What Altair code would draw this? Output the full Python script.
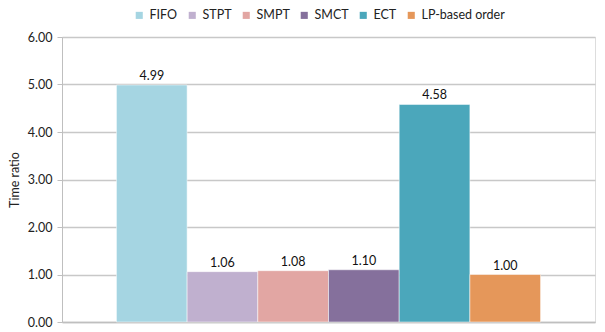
import altair as alt
import pandas as pd

methods = ["FIFO", "STPT", "SMPT", "SMCT", "ECT", "LP-based order"]
values = [4.99, 1.06, 1.08, 1.10, 4.58, 1.00]
colors = ["#A5D5E2", "#C0B0CF", "#E2A6A3", "#85709C", "#4BA7BB", "#E5975A"]
y_ticks = [0, 1, 2, 3, 4, 5, 6]

df = pd.DataFrame({"method": methods, "value": values})

FONT = "Lato"

x = alt.X("method:N", sort=methods,
          scale=alt.Scale(paddingInner=0, paddingOuter=0.77),
          axis=alt.Axis(title=None, labels=False, ticks=False, domain=True,
                        domainColor="#BFBFBF", domainWidth=1.5))
y = alt.Y("value:Q", scale=alt.Scale(domain=[0, 6], nice=False),
          axis=alt.Axis(title="Time ratio", values=y_ticks, format=".2f",
                        grid=True, gridColor="#C8C8C8", gridWidth=1.5,
                        domain=True, domainColor="#BFBFBF", domainWidth=1,
                        tickColor="#BFBFBF", tickSize=5,
                        labelFont=FONT, labelFontSize=12.5, labelColor="#222222",
                        labelPadding=5,
                        titleFont=FONT, titleFontSize=12.5, titleFontWeight="normal",
                        titleColor="#222222", titlePadding=6))

bars = alt.Chart(df).mark_bar(stroke="white", strokeWidth=0.5).encode(
    x=x, y=y,
    color=alt.Color("method:N", sort=methods,
                    scale=alt.Scale(domain=methods, range=colors),
                    legend=alt.Legend(title=None, orient="none", direction="horizontal",
                                      legendX=71, legendY=-28,
                                      symbolType="square", symbolSize=50,
                                      symbolStrokeWidth=0,
                                      labelFont=FONT, labelFontSize=12.5,
                                      labelColor="#222222",
                                      labelOffset=4, columnPadding=8)),
)

labels = alt.Chart(df).mark_text(dy=-9, font=FONT, fontSize=12.5, color="#111111").encode(
    x=alt.X("method:N", sort=methods),
    y="value:Q",
    text=alt.Text("value:Q", format=".2f"),
)

chart = (bars + labels).properties(
    width=533, height=285,
    autosize=alt.AutoSizeParams(type="none"),
    padding={"left": 54, "top": 29, "right": 2, "bottom": 10},
).configure_view(stroke=None).configure(background="white")

chart.save("out.html", embed_options={"renderer": "svg", "actions": False})
